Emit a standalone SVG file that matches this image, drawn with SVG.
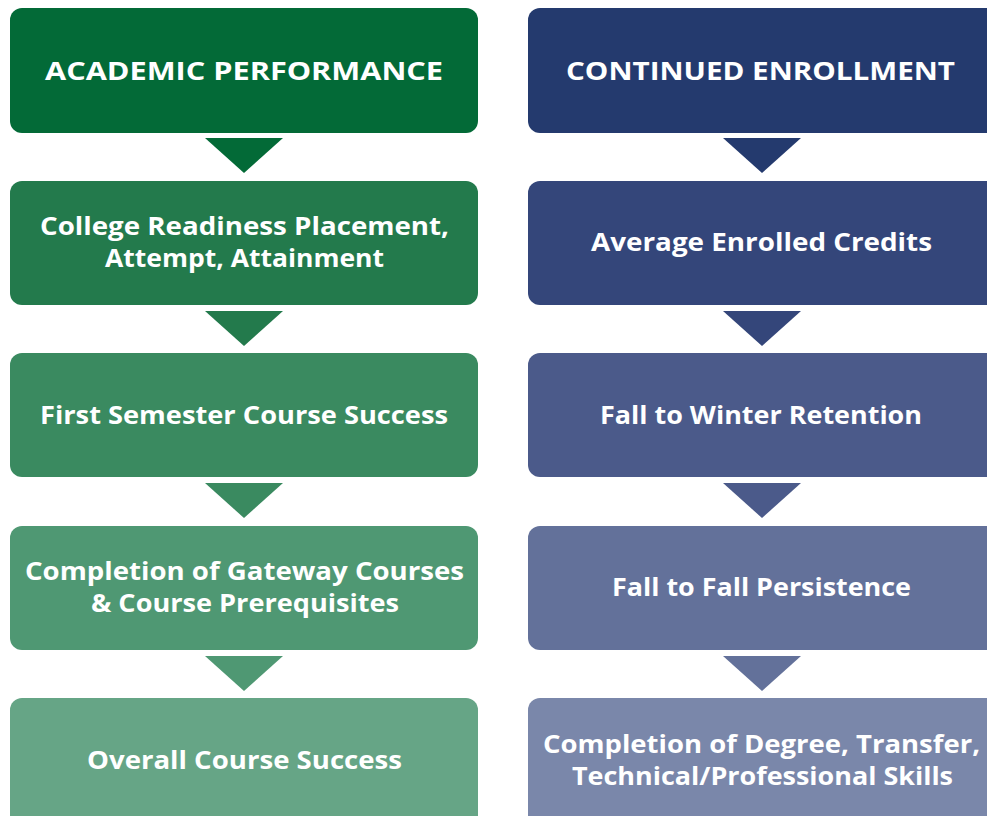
<svg xmlns="http://www.w3.org/2000/svg" width="987" height="816" viewBox="0 0 987 816">
<style>
text{font-family:"Open Sans","Liberation Sans",sans-serif;font-weight:bold;fill:#fff;text-anchor:middle}
.t{font-size:25px}
.b{font-size:24.5px}
</style>
<rect width="987" height="816" fill="#fff"/>
<g id="connectors">
<polygon points="205,138 283,138 244,173" fill="#036a37"/>
<polygon points="205,311 283,311 244,346" fill="#237a4c"/>
<polygon points="205,483 283,483 244,518" fill="#3a8a60"/>
<polygon points="205,656 283,656 244,691" fill="#4f9873"/>
<polygon points="723,138 801,138 762,173" fill="#243a6e"/>
<polygon points="723,311 801,311 762,346" fill="#34467a"/>
<polygon points="723,483 801,483 762,518" fill="#4b5a8a"/>
<polygon points="723,656 801,656 762,691" fill="#63719a"/>
</g>
<g id="n1"><rect x="10" y="8" width="468" height="125" rx="12" fill="#036a37"/><text class="t" x="244" y="80" textLength="398" lengthAdjust="spacingAndGlyphs">ACADEMIC PERFORMANCE</text></g>
<g id="n2"><rect x="10" y="181" width="468" height="124" rx="12" fill="#237a4c"/><text class="b" x="244.5" y="235" textLength="409" lengthAdjust="spacingAndGlyphs">College Readiness Placement,</text><text class="b" x="244.5" y="267" textLength="279" lengthAdjust="spacingAndGlyphs">Attempt, Attainment</text></g>
<g id="n3"><rect x="10" y="353" width="468" height="124" rx="12" fill="#3a8a60"/><text class="b" x="244" y="424" textLength="408" lengthAdjust="spacingAndGlyphs">First Semester Course Success</text></g>
<g id="n4"><rect x="10" y="526" width="468" height="124" rx="12" fill="#4f9873"/><text class="b" x="244.5" y="580" textLength="439" lengthAdjust="spacingAndGlyphs">Completion of Gateway Courses</text><text class="b" x="245" y="612" textLength="308" lengthAdjust="spacingAndGlyphs">&amp; Course Prerequisites</text></g>
<g id="n5"><rect x="10" y="698" width="468" height="130" rx="12" fill="#66a586"/><text class="b" x="244.5" y="769" textLength="315" lengthAdjust="spacingAndGlyphs">Overall Course Success</text></g>
<g id="m1"><rect x="528" y="8" width="472" height="125" rx="12" fill="#243a6e"/><text class="t" x="760.5" y="80" textLength="389" lengthAdjust="spacingAndGlyphs">CONTINUED ENROLLMENT</text></g>
<g id="m2"><rect x="528" y="181" width="472" height="124" rx="12" fill="#34467a"/><text class="b" x="761.5" y="251" textLength="341" lengthAdjust="spacingAndGlyphs">Average Enrolled Credits</text></g>
<g id="m3"><rect x="528" y="353" width="472" height="124" rx="12" fill="#4b5a8a"/><text class="b" x="761" y="424" textLength="322" lengthAdjust="spacingAndGlyphs">Fall to Winter Retention</text></g>
<g id="m4"><rect x="528" y="526" width="472" height="124" rx="12" fill="#63719a"/><text class="b" x="761.5" y="596" textLength="299" lengthAdjust="spacingAndGlyphs">Fall to Fall Persistence</text></g>
<g id="m5"><rect x="528" y="698" width="472" height="130" rx="12" fill="#7a87aa"/><text class="b" x="761.5" y="753" textLength="437" lengthAdjust="spacingAndGlyphs">Completion of Degree, Transfer,</text><text class="b" x="762.5" y="785" textLength="381" lengthAdjust="spacingAndGlyphs">Technical/Professional Skills</text></g>
</svg>
